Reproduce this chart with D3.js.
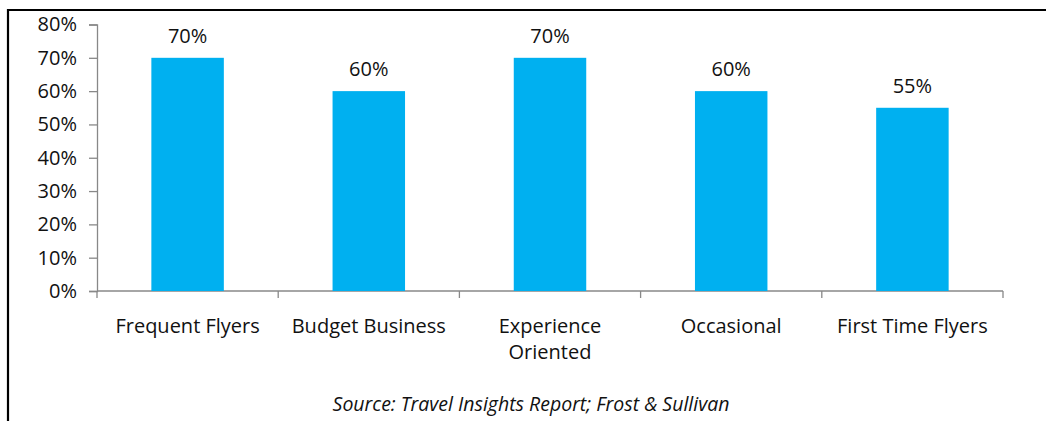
<!DOCTYPE html>
<html>
<head>
<meta charset="utf-8">
<script src="https://cdn.jsdelivr.net/npm/d3@7"></script>
<style>
  body { margin: 0; background: #fff; }
  text { font-family: "Open Sans", Lato, sans-serif; fill: #111; }
</style>
</head>
<body>
<div class="chartContainer"></div>
<script>
var categories = ["Frequent Flyers", "Budget Business", "Experience Oriented", "Occasional", "First Time Flyers"]
var shares = [70, 60, 70, 60, 55]
var yTicks = [0, 10, 20, 30, 40, 50, 60, 70, 80]

var width = 1046, height = 421
var fontSize = 20

var svg = d3.select(".chartContainer")
    .append("svg")
    .attr("width", width)
    .attr("height", height)

// frame lines (top + left only)
svg.append("path")
    .attr("d", "M8,421V10H1046")
    .attr("fill", "none")
    .attr("stroke", "#000")
    .attr("stroke-width", 2.2)

var x = d3.scaleBand()
    .domain(categories)
    .range([97, 1003])
    .paddingInner(0.6)
    .paddingOuter(0.3)

var y = d3.scaleLinear()
    .domain([0, 80])
    .range([291, 24.5])

// y axis
var yAxis = svg.append("g")
    .attr("transform", "translate(97,0)")
    .call(d3.axisLeft(y).tickValues(yTicks).tickSize(8).tickPadding(12).tickFormat(d => d + "%"))
yAxis.select(".domain").attr("stroke", "#888").attr("stroke-width", 1.3)
yAxis.selectAll(".tick line").attr("stroke", "#888").attr("stroke-width", 1.3)
yAxis.selectAll(".tick text").attr("font-size", fontSize).attr("fill", "#111")
    .attr("font-family", "'Open Sans', Lato, sans-serif")

// x axis line + boundary ticks
var bounds = d3.range(categories.length + 1).map(i => 97 + i * (1003 - 97) / categories.length)
svg.append("line")
    .attr("x1", 97).attr("x2", 1003)
    .attr("y1", y(0)).attr("y2", y(0))
    .attr("stroke", "#888").attr("stroke-width", 1.3)
svg.append("g").selectAll("line")
    .data(bounds)
    .enter()
    .append("line")
    .attr("x1", d => d).attr("x2", d => d)
    .attr("y1", y(0)).attr("y2", y(0) + 7)
    .attr("stroke", "#888").attr("stroke-width", 1.3)

// bars
svg.append("g").selectAll("rect")
    .data(shares)
    .enter()
    .append("rect")
    .attr("x", (d, i) => x(categories[i]))
    .attr("width", x.bandwidth())
    .attr("y", d => y(d))
    .attr("height", d => y(0) - y(d))
    .attr("fill", "#00B0F0")

// value labels
svg.append("g").selectAll("text")
    .data(shares)
    .enter()
    .append("text")
    .attr("x", (d, i) => x(categories[i]) + x.bandwidth() / 2)
    .attr("y", d => y(d) - 15)
    .attr("text-anchor", "middle")
    .attr("font-size", fontSize)
    .text(d => d + "%")

// category labels, wrap the long one
var wrapped = { "Experience Oriented": ["Experience", "Oriented"] }
svg.append("g").selectAll("text")
    .data(categories)
    .enter()
    .append("text")
    .attr("text-anchor", "middle")
    .attr("font-size", fontSize)
    .each(function (d) {
        var lines = wrapped[d] || [d]
        var cx = x(d) + x.bandwidth() / 2
        d3.select(this).selectAll("tspan")
            .data(lines)
            .enter()
            .append("tspan")
            .attr("x", cx)
            .attr("y", (l, j) => 333 + j * 26)
            .text(l => l)
    })

// source note
svg.append("text")
    .attr("x", 531)
    .attr("y", 411)
    .attr("text-anchor", "middle")
    .attr("font-size", 19.5)
    .attr("font-style", "italic")
    .text("Source: Travel Insights Report; Frost & Sullivan")
</script>
</body>
</html>
